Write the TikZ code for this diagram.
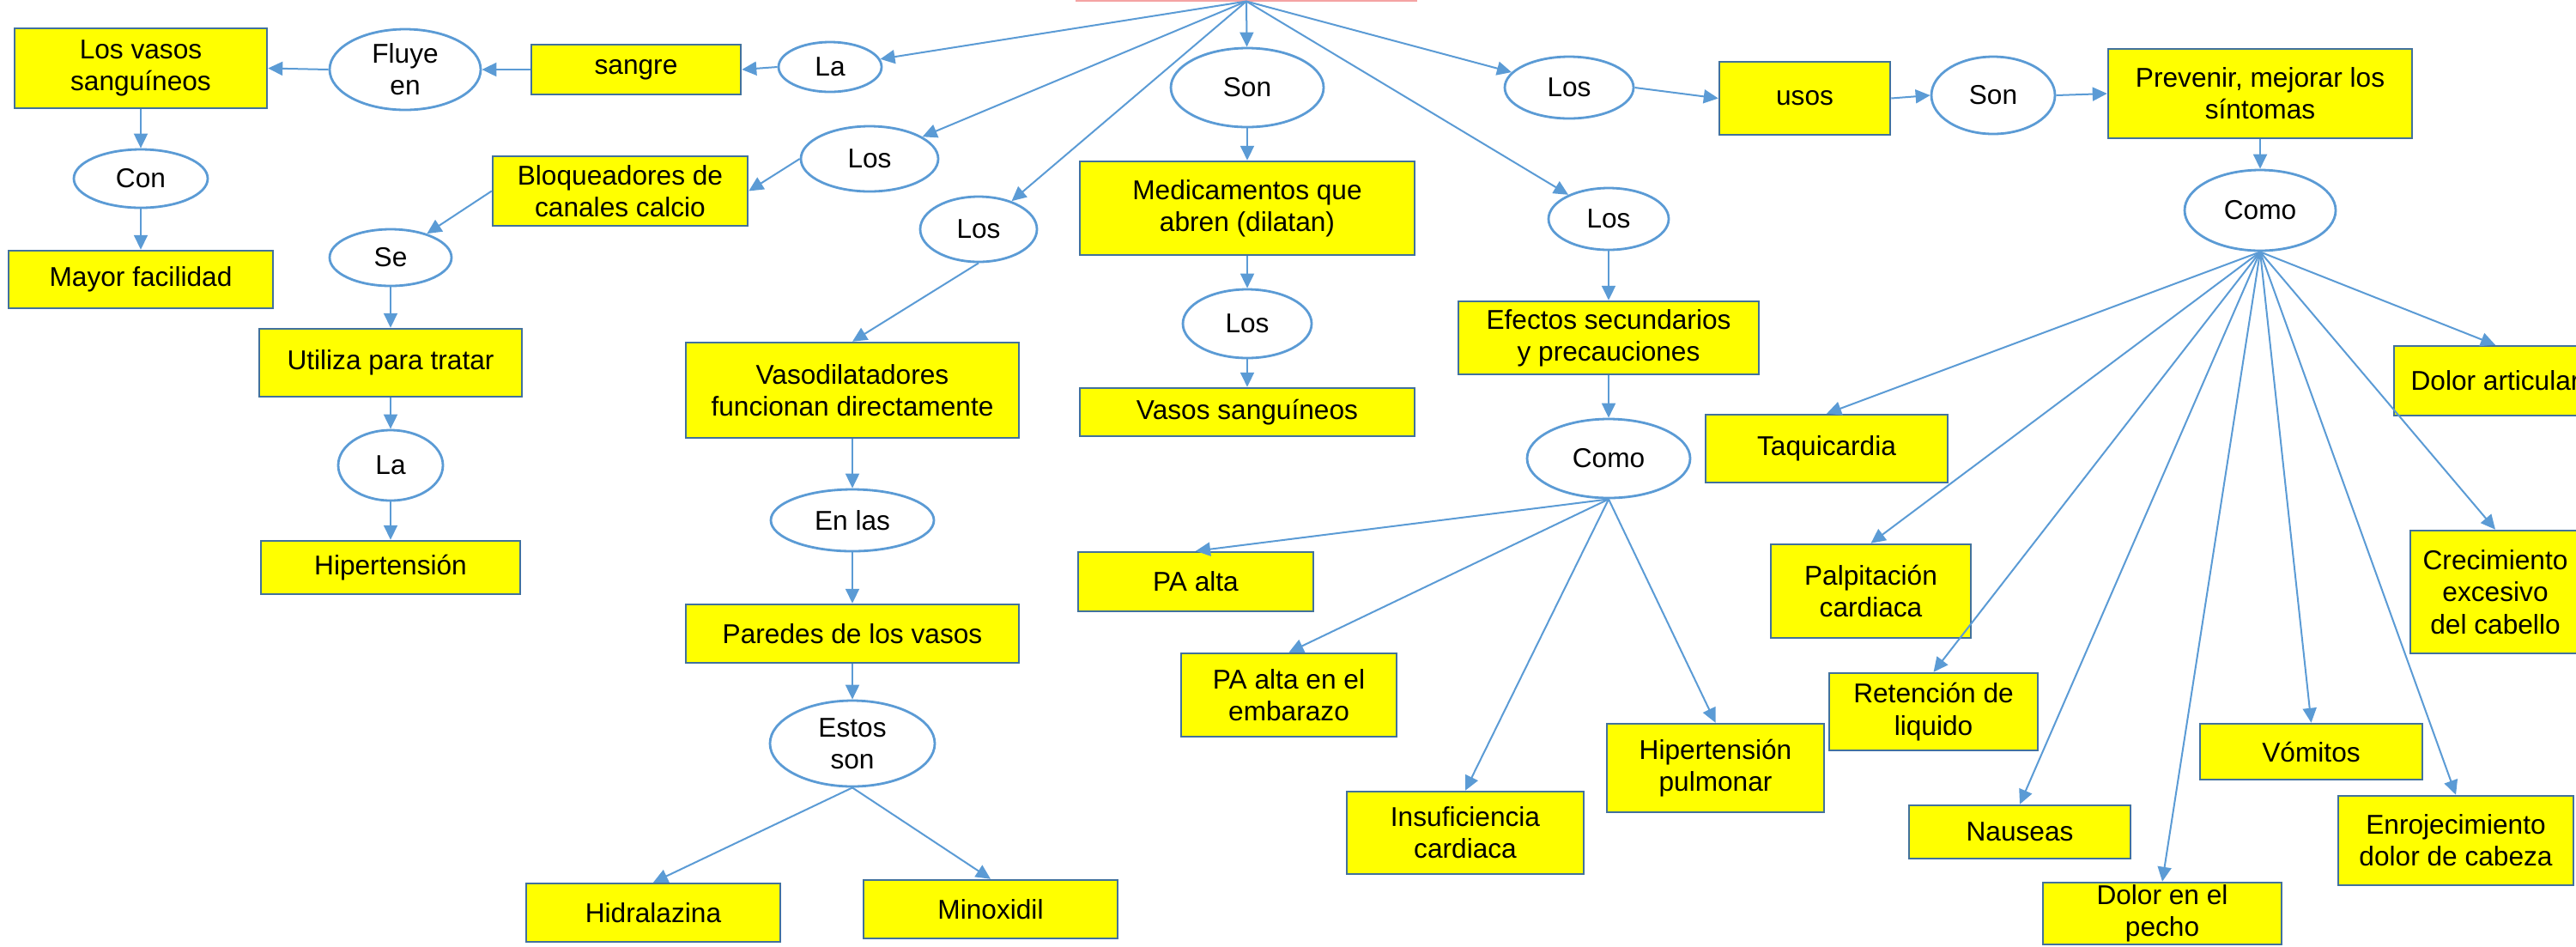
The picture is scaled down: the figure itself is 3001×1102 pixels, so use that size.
\documentclass[tikz,border=0pt]{standalone}
\usepackage{fontspec}
\setmainfont{Liberation Sans}
\usetikzlibrary{arrows.meta,shapes.geometric}
\definecolor{lnblue}{HTML}{5B9BD5}
\definecolor{bxborder}{HTML}{41719C}
\definecolor{bxfill}{HTML}{FFFF00}
\definecolor{rootred}{HTML}{F4A3A3}
\tikzset{
  ybox/.style={draw=bxborder, fill=bxfill, line width=0.025cm, rectangle, align=center, inner sep=0pt, font=\fontsize{9}{10.6}\selectfont},
  yell/.style={draw=lnblue, fill=white, line width=0.028cm, ellipse, align=center, inner sep=0pt, font=\fontsize{9}{10.6}\selectfont},
  arr/.style={draw=lnblue, line width=0.02cm, -{Triangle[length=0.17cm,width=0.16cm]}},
}
\newcommand\YB[6]{\node[ybox, minimum width={(#4-#2)*0.01cm}, minimum height={(#5-#3)*0.01cm}] (#1) at ({(#2+#4)/2},{(#3+#5)/2}) {#6};}
\newcommand\YE[6]{\node[yell, minimum width={2*#4*0.01cm}, minimum height={2*#5*0.01cm}] (#1) at (#2,#3) {#6};}
\begin{document}
\begin{tikzpicture}[x=0.01cm,y=-0.01cm]
\useasboundingbox (0,0) rectangle (3001,1102);
\clip (0,0) rectangle (3001,1102);
\node[draw=rootred, line width=0.02cm, minimum width=3.96cm, minimum height=0.6cm, inner sep=0pt] (root) at (1452,-29.5) {};
% boxes
\YB{vasosL}{17}{33}{311}{126}{Los vasos\\sanguíneos}
\YB{sangre}{619}{52}{863}{110}{sangre}
\YB{mayor}{10}{292}{318}{359}{Mayor facilidad}
\YB{bloq}{574}{182}{871}{263}{Bloqueadores de\\canales calcio}
\YB{util}{302}{383}{608}{462}{Utiliza para tratar}
\YB{hiper}{304}{630}{606}{692}{Hipertensión}
\YB{vasod}{799}{399}{1187}{510}{Vasodilatadores\\funcionan directamente}
\YB{paredes}{799}{704}{1187}{772}{Paredes de los vasos}
\YB{hidra}{613}{1029}{909}{1097}{Hidralazina}
\YB{minox}{1006}{1025}{1302}{1093}{Minoxidil}
\YB{medic}{1258}{188}{1648}{297}{Medicamentos que\\abren (dilatan)}
\YB{vasosS}{1258}{452}{1648}{508}{Vasos sanguíneos}
\YB{efectos}{1699}{351}{2049}{436}{Efectos secundarios\\y precauciones}
\YB{pa}{1256}{643}{1530}{712}{PA alta}
\YB{emb}{1376}{761}{1627}{858}{PA alta en el\\embarazo}
\YB{insuf}{1569}{922}{1845}{1018}{Insuficiencia\\cardiaca}
\YB{hpul}{1872}{843}{2125}{946}{Hipertensión\\pulmonar}
\YB{usos}{2003}{72}{2202}{157}{usos}
\YB{prev}{2456}{57}{2810}{161}{Prevenir, mejorar los\\síntomas}
\YB{taqui}{1987}{483}{2269}{562}{Taquicardia}
\YB{palp}{2063}{634}{2296}{743}{Palpitación\\cardiaca}
\YB{reten}{2131}{784}{2374}{874}{Retención de\\liquido}
\YB{naus}{2224}{938}{2482}{1000}{Nauseas}
\YB{pecho}{2380}{1028}{2658}{1100}{Dolor en el\\pecho}
\YB{vomi}{2563}{843}{2822}{908}{Vómitos}
\YB{enroj}{2724}{927}{2998}{1031}{Enrojecimiento\\dolor de cabeza}
\YB{crec}{2808}{618}{3006}{761}{Crecimiento\\excesivo\\del cabello}
\YB{artic}{2789}{403}{3025}{484}{Dolor articular}
% ellipses
\YE{fluye}{472}{81}{88}{47}{Fluye\\en}
\YE{laT}{967}{78}{60}{29}{La}
\YE{con}{164}{208}{78}{34}{Con}
\YE{losA}{1013}{185}{80}{38}{Los}
\YE{se}{455}{300}{71}{33}{Se}
\YE{laH}{455}{542}{61}{41}{La}
\YE{losB}{1140}{267}{68}{38}{Los}
\YE{enlas}{993}{606}{95}{36}{En las}
\YE{estos}{993}{866}{96}{50}{Estos\\son}
\YE{sonC}{1453}{102}{89}{46}{Son}
\YE{losM}{1453}{377}{75}{40}{Los}
\YE{losR}{1828}{102}{75}{36}{Los}
\YE{losE}{1874}{255}{70}{36}{Los}
\YE{comoE}{1874}{534}{95}{46}{Como}
\YE{sonR}{2322}{111}{72}{45}{Son}
\YE{comoR}{2633}{245}{88}{47}{Como}
% connectors from root
\draw[arr] (root.south) -- (laT);
\draw[arr] (root.south) -- (losA);
\draw[arr] (root.south) -- (losB);
\draw[arr] (root.south) -- (sonC);
\draw[arr] (root.south) -- (losE);
\draw[arr] (root.south) -- (losR);
% left branch
\draw[arr] (laT.west) -- (sangre.east);
\draw[arr] (sangre.west) -- (fluye.east);
\draw[arr] (fluye.west) -- (vasosL.east);
\draw[arr] (vasosL.south) -- (con.north);
\draw[arr] (con.south) -- (mayor.north);
\draw[arr] (losA.west) -- (bloq.east);
\draw[arr] (bloq.west) -- (se);
\draw[arr] (se.south) -- (util.north);
\draw[arr] (util.south) -- (laH.north);
\draw[arr] (laH.south) -- (hiper.north);
\draw[arr] (losB.south) -- (vasod.north);
\draw[arr] (vasod.south) -- (enlas.north);
\draw[arr] (enlas.south) -- (paredes.north);
\draw[arr] (paredes.south) -- (estos.north);
\draw[arr] (estos.south) -- (hidra.north);
\draw[arr] (estos.south) -- (minox.north);
% middle
\draw[arr] (sonC.south) -- (medic.north);
\draw[arr] (medic.south) -- (losM.north);
\draw[arr] (losM.south) -- (vasosS.north);
\draw[arr] (losE.south) -- (efectos.north);
\draw[arr] (efectos.south) -- (comoE.north);
\draw[arr] (comoE.south) -- (pa.north);
\draw[arr] (comoE.south) -- (emb.north);
\draw[arr] (comoE.south) -- (insuf.north);
\draw[arr] (comoE.south) -- (hpul.north);
% right
\draw[arr] (losR.east) -- (usos.west);
\draw[arr] (usos.east) -- (sonR.west);
\draw[arr] (sonR.east) -- (prev.west);
\draw[arr] (prev.south) -- (comoR.north);
\draw[arr] (comoR.south) -- (taqui.north);
\draw[arr] (comoR.south) -- (palp.north);
\draw[arr] (comoR.south) -- (reten.north);
\draw[arr] (comoR.south) -- (naus.north);
\draw[arr] (comoR.south) -- (pecho.north);
\draw[arr] (comoR.south) -- (vomi.north);
\draw[arr] (comoR.south) -- (enroj.north);
\draw[arr] (comoR.south) -- (crec.north);
\draw[arr] (comoR.south) -- (artic.north);
\end{tikzpicture}
\end{document}
